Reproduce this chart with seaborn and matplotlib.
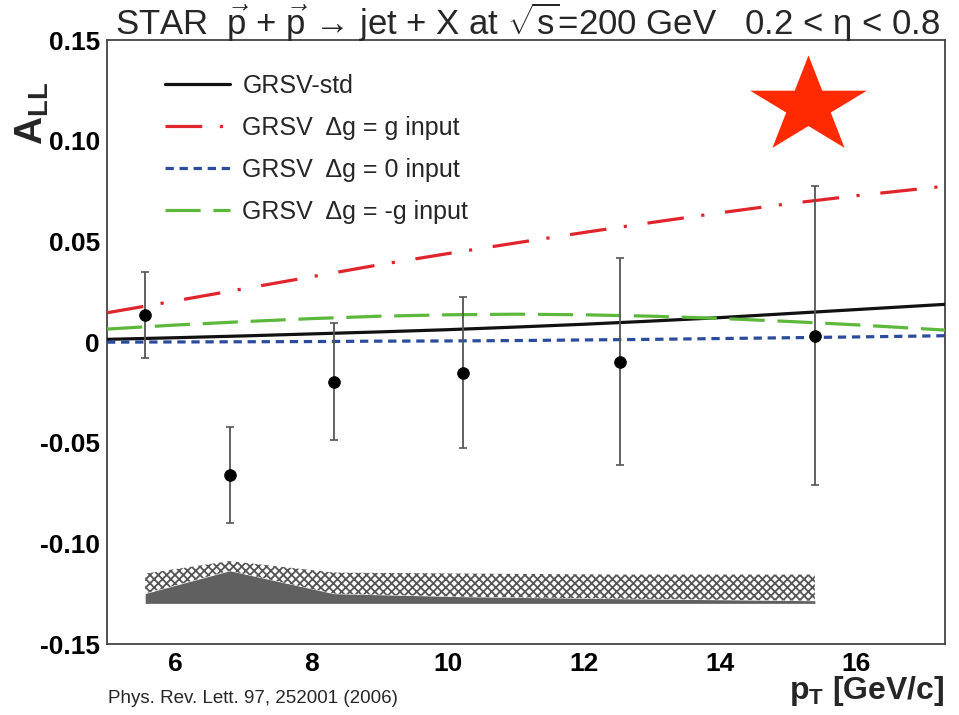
import numpy as np
import pandas as pd
import matplotlib
matplotlib.use("Agg")
import matplotlib.pyplot as plt
import seaborn as sns
from matplotlib.path import Path
from matplotlib.ticker import MultipleLocator, FixedLocator, FixedFormatter

# ---------------- data ----------------
pt_curve = [5.0, 6.0, 7.0, 8.0, 9.0, 10.0, 11.0, 12.0, 13.0, 14.0, 15.0, 16.0, 17.3]
grsv_std = [0.0014, 0.0022, 0.0031, 0.0041, 0.0051, 0.0062, 0.0075, 0.0089, 0.0105, 0.0122, 0.0142, 0.0162, 0.0188]
grsv_max = [0.0146, 0.0205, 0.0265, 0.0325, 0.0385, 0.0440, 0.0493, 0.0545, 0.0595, 0.0643, 0.0688, 0.0728, 0.0775]
grsv_zero = [0.0, 0.0001, 0.0002, 0.0003, 0.0005, 0.0006, 0.0008, 0.0011, 0.0014, 0.0018, 0.0022, 0.0026, 0.0032]
grsv_min = [0.0065, 0.0085, 0.0102, 0.0117, 0.0129, 0.0136, 0.0139, 0.0136, 0.0129, 0.0118, 0.0103, 0.0086, 0.0060]

pt_data = [5.56, 6.80, 8.33, 10.22, 12.53, 15.39]
all_data = [0.0135, -0.066, -0.0197, -0.0152, -0.0097, 0.0032]
all_err = [0.0215, 0.024, 0.029, 0.0375, 0.0514, 0.0743]

sys_base = -0.1298
sys_gray_top = [-0.1249, -0.1136, -0.1250, -0.1265, -0.1275, -0.1285]
sys_hatch_top = [-0.1150, -0.1088, -0.1145, -0.1150, -0.1155, -0.1155]

series_labels = ["GRSV-std", "GRSV  \u0394g = g input", "GRSV  \u0394g = 0 input", "GRSV  \u0394g = -g input"]
x_ticks = [6, 8, 10, 12, 14, 16]
y_ticks = [-0.15, -0.10, -0.05, 0.0, 0.05, 0.10, 0.15]
y_tick_labels = ["-0.15", "-0.10", "-0.05", "0", "0.05", "0.10", "0.15"]

# ---------------- style ----------------
sns.set_theme(style="white")
plt.rcParams["font.family"] = ["Liberation Sans", "DejaVu Sans"]
plt.rcParams["mathtext.fontset"] = "custom"
plt.rcParams["mathtext.rm"] = "Liberation Sans"
plt.rcParams["mathtext.it"] = "Liberation Sans:italic"
plt.rcParams["mathtext.bf"] = "Liberation Sans:bold"
plt.rcParams["hatch.linewidth"] = 1.3

fig = plt.figure(figsize=(9.59, 7.15), dpi=100)
ax = fig.add_axes([0.1116, 0.0993, 0.8738, 0.8443])

curves = pd.DataFrame({
    "pt": pt_curve * 4,
    "A": grsv_std + grsv_max + grsv_zero + grsv_min,
    "model": sum([[lab] * len(pt_curve) for lab in series_labels], []),
})

colors = ["#111111", "#e0242c", "#2b4c9c", "#5cb83a"]
lw = 2.3
dash_styles = [
    "-",
    (0, (11.5, 5.5, 1.0, 6.5)),
    (0, (2.6, 1.8)),
    (0, (11.0, 4.0)),
]
for lab, col, ls in zip(series_labels, colors, dash_styles):
    sub = curves[curves["model"] == lab]
    sns.lineplot(data=sub, x="pt", y="A", ax=ax, color=col, linewidth=lw,
                 linestyle=ls, label=lab, zorder=3)

# systematic band
ax.fill_between(pt_data, sys_base, sys_gray_top, color="#606060", lw=0, zorder=2)
ax.fill_between(pt_data, sys_gray_top, sys_hatch_top, facecolor="white",
                edgecolor="#555555", hatch="xxxx", lw=0, zorder=2)

# data points
ax.errorbar(pt_data, all_data, yerr=all_err, fmt="none", ecolor="#555555",
            elinewidth=1.3, capsize=3, capthick=1.2, zorder=4)
sns.scatterplot(x=pt_data, y=all_data, ax=ax, color="black", s=70,
                edgecolor="black", zorder=5, legend=False)

# star (slightly wide, as in the reference)
ang_out = np.deg2rad(90 + 72 * np.arange(5))
ang_in = ang_out + np.deg2rad(36)
verts = []
for ao, ai in zip(ang_out, ang_in):
    verts.append((1.2 * np.cos(ao), np.sin(ao)))
    verts.append((1.2 * 0.382 * np.cos(ai), 0.382 * np.sin(ai)))
verts.append(verts[0])
codes = [Path.MOVETO] + [Path.LINETO] * 9 + [Path.CLOSEPOLY]
star = Path(verts, codes)
ax.plot([0.837], [0.892], marker=star, ms=84, color="#ff2a00", mec="#ff2a00", mew=0,
        transform=ax.transAxes, clip_on=False, zorder=6)

ax.set_xlim(5.0, 17.3)
ax.set_ylim(-0.15, 0.15)

ax.xaxis.set_major_locator(FixedLocator(x_ticks))
ax.xaxis.set_minor_locator(MultipleLocator(0.5))
ax.yaxis.set_major_locator(FixedLocator(y_ticks))
ax.yaxis.set_major_formatter(FixedFormatter(y_tick_labels))
ax.yaxis.set_minor_locator(MultipleLocator(0.01))

ax.tick_params(axis="both", which="both", direction="in", top=False, right=False,
               colors="#333333", labelcolor="black")
ax.tick_params(axis="x", which="major", length=13, width=1.2, pad=6, labelsize=19)
ax.tick_params(axis="x", which="minor", length=7, width=1.0)
ax.tick_params(axis="y", which="major", length=18, width=1.2, pad=5, labelsize=19)
ax.tick_params(axis="y", which="minor", length=10, width=1.0)
for lbl in ax.get_xticklabels() + ax.get_yticklabels():
    lbl.set_fontweight("bold")

for sp in ax.spines.values():
    sp.set_color("#444444")
    sp.set_linewidth(1.3)
    sp.set_visible(True)

ax.set_xlabel("")
ax.set_ylabel(r"$\mathbf{A}_{\mathbf{LL}}$", fontsize=28, fontweight="bold", rotation=90)
ax.yaxis.set_label_coords(-0.067, 0.878)

leg = ax.legend(loc="upper left", bbox_to_anchor=(0.069, 0.945), frameon=False,
                fontsize=18, handlelength=2.6, handletextpad=0.5, labelspacing=0.72,
                borderpad=0.0, borderaxespad=0.0)

fig.text(0.55, 0.968,
         "STAR  $\\vec{\\mathrm{p}}$ + $\\vec{\\mathrm{p}}$ \u2192 jet + X at $\\sqrt{\\mathrm{s}}$=200 GeV   0.2 < \u03b7 < 0.8",
         ha="center", va="center", fontsize=25)

fig.text(0.985, 0.022, r"$\mathbf{p}_{\mathbf{T}}$ [GeV/c]", ha="right", va="baseline",
         fontsize=23, fontweight="bold")
fig.text(0.113, 0.017, "Phys. Rev. Lett. 97, 252001 (2006)", ha="left", va="baseline",
         fontsize=13.5)

fig.savefig("out.png", dpi=100)
